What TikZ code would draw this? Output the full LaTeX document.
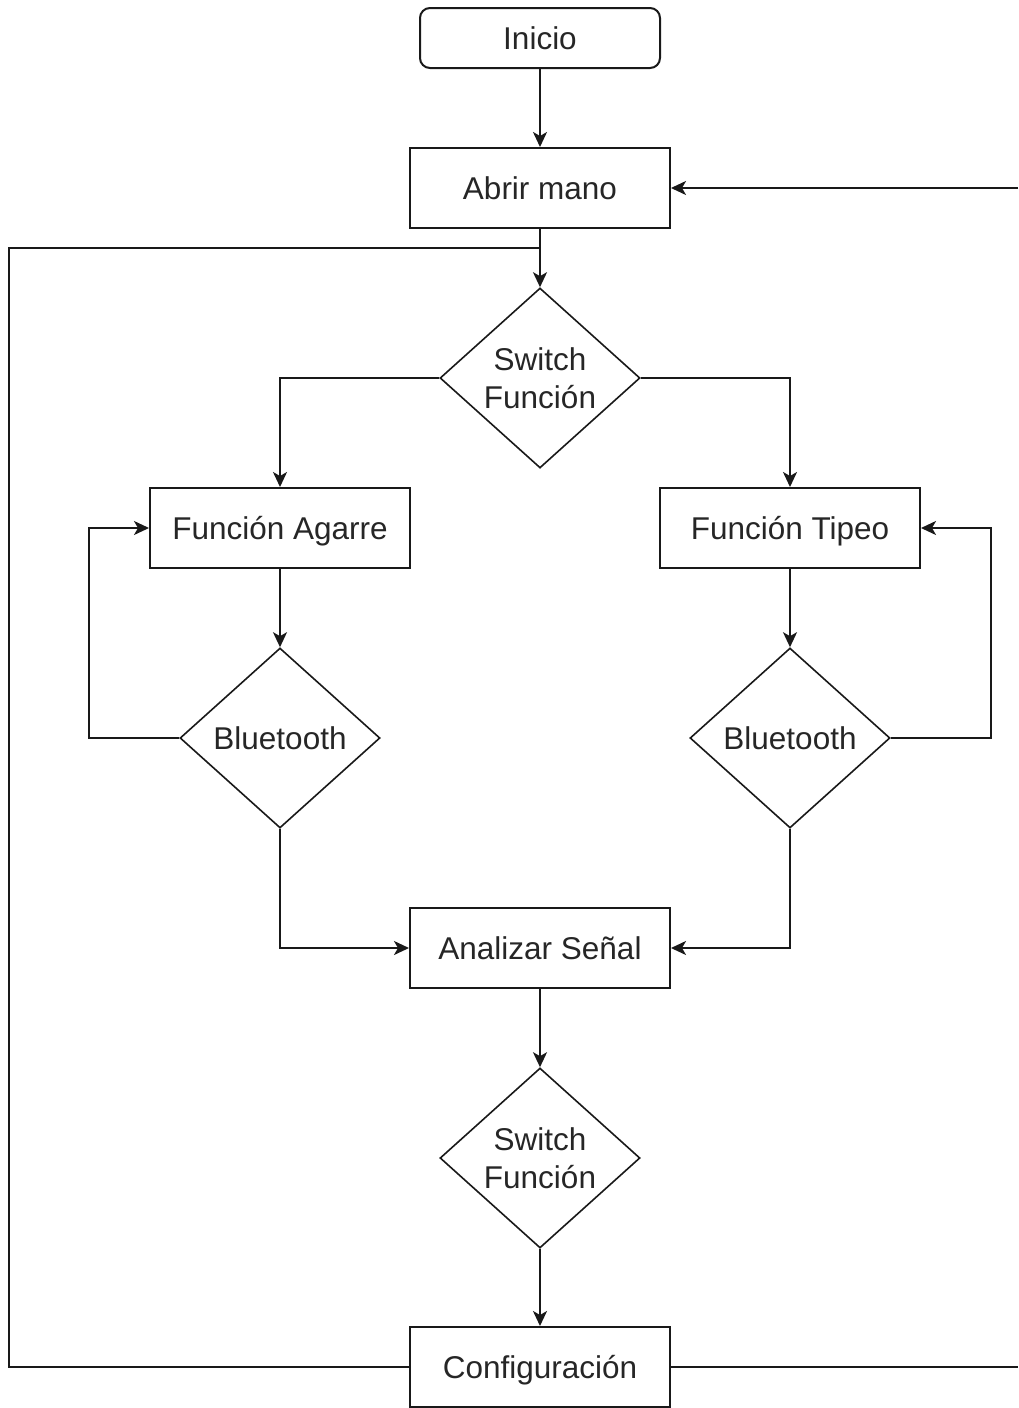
\documentclass[tikz,border=0pt]{standalone}
\usepackage{fontspec}
\setmainfont{Liberation Sans}
\usetikzlibrary{shapes.geometric,arrows.meta}
\begin{document}
\begin{tikzpicture}[x=1pt,y=-1pt,
  font=\fontsize{31.5}{38}\selectfont,
  box/.style={draw=black!90, line width=2pt, minimum width=260pt, minimum height=80pt, inner sep=0pt, text=black!85, text height=22.7pt, text depth=0pt},
  start/.style={box, rounded corners=10pt, minimum width=240pt, minimum height=60pt},
  dia/.style={diamond, draw=black!90, line width=1.6pt, minimum width=200pt, minimum height=180pt, inner sep=0pt, aspect=1.111, align=center, text=black!85},
  conn/.style={draw=black!90, line width=2pt},
  arr/.style={conn, -{Stealth[length=15pt,width=14pt,inset=4pt]}},
]
\useasboundingbox (0,0) rectangle (1018,1408);
\node[start] (inicio) at (540,38) {Inicio};
\node[box] (abrir) at (540,188) {Abrir mano};
\node[dia] (sw1) at (540,378) {Switch\\Función};
\node[box] (agarre) at (280,528) {Función Agarre};
\node[box] (tipeo) at (790,528) {Función Tipeo};
\node[dia] (btL) at (280,738) {Bluetooth};
\node[dia] (btR) at (790,738) {Bluetooth};
\node[box] (anal) at (540,948) {Analizar Señal};
\node[dia] (sw2) at (540,1158) {Switch\\Función};
\node[box] (conf) at (540,1367) {Configuración};
\coordinate (jn) at (540,248);
\coordinate (rEdgeTop) at (1018,188);
\coordinate (rEdgeBot) at (1018,1367);
\draw[arr] (inicio) -- (abrir);
\draw[arr] (abrir) -- (sw1);
\draw[conn] (conf.west) -- ++(-400,0) |- (jn);
\draw[arr] (sw1.west) -| (agarre.north);
\draw[arr] (sw1.east) -| (tipeo.north);
\draw[arr] (agarre) -- (btL);
\draw[arr] (tipeo) -- (btR);
\draw[arr] (btL.west) -- ++(-90,0) |- (agarre.west);
\draw[arr] (btR.east) -- ++(100,0) |- (tipeo.east);
\draw[arr] (btL.south) |- (anal.west);
\draw[arr] (btR.south) |- (anal.east);
\draw[arr] (anal) -- (sw2);
\draw[arr] (sw2) -- (conf);
\draw[conn] (conf.east) -- (rEdgeBot);
\draw[arr] (rEdgeTop) -- (abrir.east);
\end{tikzpicture}
\end{document}
